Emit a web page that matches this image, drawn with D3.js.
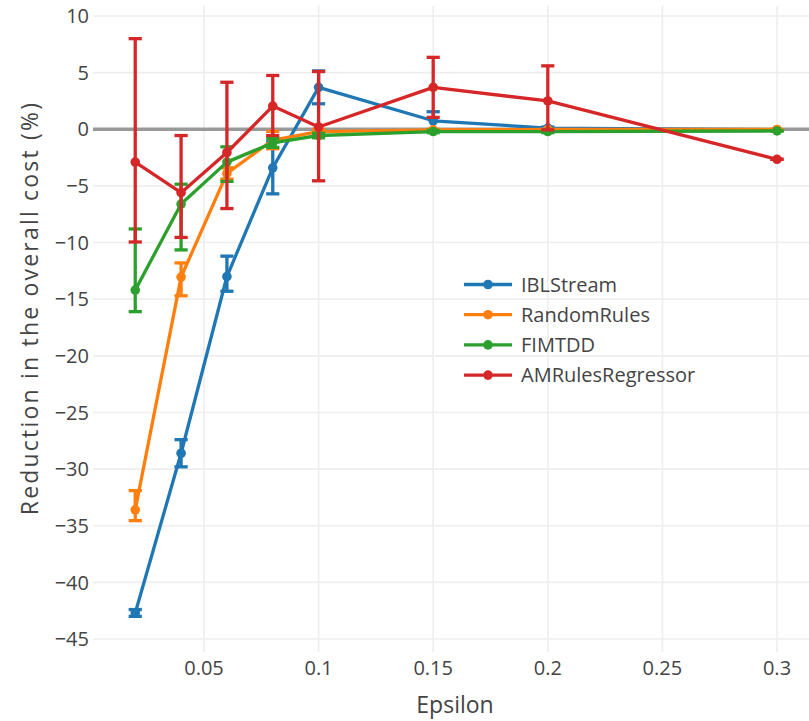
<!DOCTYPE html>
<html>
<head>
<meta charset="utf-8">
<script src="https://cdn.jsdelivr.net/npm/d3@7"></script>
<style>
  html, body { margin: 0; padding: 0; background: #fff; }
  svg { display: block; font-family: "Open Sans", verdana, arial, sans-serif; }
</style>
</head>
<body>
<svg id="chart" width="809" height="721"></svg>
<script>
// ---- data ----
const epsilon = [0.02, 0.04, 0.06, 0.08, 0.1, 0.15, 0.2, 0.3];
const seriesNames = ["IBLStream", "RandomRules", "FIMTDD", "AMRulesRegressor"];
const seriesColors = ["#1f77b4", "#ff7f0e", "#2ca02c", "#d62728"];

const iblStream      = [-42.7, -28.6, -13.0, -3.4, 3.7, 0.75, 0.1, -0.05];
const iblStreamUp    = [0.3, 1.2, 1.8, 2.3, 1.45, 0.8, 0.1, 0];
const iblStreamDown  = [0.3, 1.2, 1.3, 2.3, 1.45, 0.8, 0.1, 0];

const randomRules     = [-33.6, -13.05, -3.9, -0.95, -0.2, -0.05, -0.02, -0.02];
const randomRulesUp   = [1.7, 1.25, 0.5, 0.77, 0.2, 0.05, 0, 0];
const randomRulesDown = [0.95, 1.65, 0.5, 0.77, 0.2, 0.05, 0, 0];

const fimtdd     = [-14.2, -6.6, -2.9, -1.2, -0.55, -0.2, -0.2, -0.15];
const fimtddUp   = [5.4, 1.75, 1.35, 0.4, 0.2, 0.1, 0.1, 0];
const fimtddDown = [1.9, 4.05, 1.7, 0.4, 0.2, 0.1, 0.1, 0];

const amRules     = [-2.9, -5.6, -2.05, 2.05, 0.2, 3.7, 2.5, -2.65];
const amRulesUp   = [10.9, 5.05, 6.2, 2.7, 4.9, 2.65, 3.1, 0];
const amRulesDown = [7.05, 3.95, 4.95, 2.6, 4.75, 2.65, 2.55, 0];

const xTicks = [0.05, 0.1, 0.15, 0.2, 0.25, 0.3];
const xTickLabels = ["0.05", "0.1", "0.15", "0.2", "0.25", "0.3"];
const yTicks = [10, 5, 0, -5, -10, -15, -20, -25, -30, -35, -40, -45];

const values = [iblStream, randomRules, fimtdd, amRules];
const ups = [iblStreamUp, randomRulesUp, fimtddUp, amRulesUp];
const downs = [iblStreamDown, randomRulesDown, fimtddDown, amRulesDown];

// ---- layout ----
const svg = d3.select("#chart");
const W = 809, H = 721;
const plotLeft = 93, plotRight = 820, plotTop = 6, plotBottom = 652;

const x = d3.scaleLinear().domain([0, 0.3]).range([89.4, 777]);
const y = d3.scaleLinear().domain([10, -45]).range([16, 639]);

svg.append("rect").attr("width", W).attr("height", H).attr("fill", "#fff");

svg.append("defs").append("clipPath").attr("id", "clip")
  .append("rect").attr("x", plotLeft).attr("y", plotTop)
  .attr("width", plotRight - plotLeft).attr("height", plotBottom - plotTop);

// grid
const grid = svg.append("g");
grid.selectAll("line.gx").data(xTicks).enter().append("line")
  .attr("x1", d => x(d)).attr("x2", d => x(d))
  .attr("y1", plotTop).attr("y2", plotBottom)
  .attr("stroke", "#eee").attr("stroke-width", 1.65);
grid.selectAll("line.gy").data(yTicks.filter(d => d !== 0)).enter().append("line")
  .attr("x1", plotLeft).attr("x2", plotRight)
  .attr("y1", d => y(d)).attr("y2", d => y(d))
  .attr("stroke", "#eee").attr("stroke-width", 1.65);

// zero line
svg.append("line")
  .attr("x1", plotLeft).attr("x2", plotRight)
  .attr("y1", y(0)).attr("y2", y(0))
  .attr("stroke", "#999").attr("stroke-width", 3.3);

// tick labels
svg.append("g").selectAll("text").data(yTicks).enter().append("text")
  .attr("x", 89).attr("y", d => y(d)).attr("dy", "0.36em")
  .attr("text-anchor", "end").attr("font-size", 20).attr("fill", "#444")
  .text(d => d < 0 ? "\u2212" + Math.abs(d) : String(d));

svg.append("g").selectAll("text").data(xTicks).enter().append("text")
  .attr("x", d => x(d)).attr("y", 668).attr("dy", "0.36em")
  .attr("text-anchor", "middle").attr("font-size", 20).attr("fill", "#444")
  .text((d, i) => xTickLabels[i]);

// axis titles
svg.append("text").attr("x", 455).attr("y", 705).attr("dy", "0.36em")
  .attr("text-anchor", "middle").attr("font-size", 23).attr("fill", "#444")
  .text("Epsilon");
svg.append("text")
  .attr("transform", "translate(30,308) rotate(-90)")
  .attr("dy", "0.36em")
  .attr("text-anchor", "middle").attr("font-size", 23).attr("fill", "#444")
  .attr("letter-spacing", 2.2)
  .text("Reduction in the overall cost (%)");

// traces
const plot = svg.append("g").attr("clip-path", "url(#clip)");
const line = d3.line().x(d => x(d[0])).y(d => y(d[1]));
const capHalf = 6.6;

values.forEach((vals, s) => {
  const color = seriesColors[s];
  const g = plot.append("g");
  const pts = epsilon.map((e, i) => [e, vals[i], ups[s][i], downs[s][i]]);
  // error bars
  const eb = g.append("g");
  pts.forEach(p => {
    const yt = y(p[1] + p[2]), yb = y(p[1] - p[3]), xc = x(p[0]);
    eb.append("line").attr("x1", xc).attr("x2", xc).attr("y1", yt).attr("y2", yb)
      .attr("stroke", color).attr("stroke-width", 3.3);
    eb.append("line").attr("x1", xc - capHalf).attr("x2", xc + capHalf).attr("y1", yt).attr("y2", yt)
      .attr("stroke", color).attr("stroke-width", 3.3);
    eb.append("line").attr("x1", xc - capHalf).attr("x2", xc + capHalf).attr("y1", yb).attr("y2", yb)
      .attr("stroke", color).attr("stroke-width", 3.3);
  });
  g.append("path").datum(pts).attr("d", line)
    .attr("fill", "none").attr("stroke", color).attr("stroke-width", 3.3)
    .attr("stroke-linejoin", "round");
  g.selectAll("circle").data(pts).enter().append("circle")
    .attr("cx", d => x(d[0])).attr("cy", d => y(d[1])).attr("r", 4.8)
    .attr("fill", color);
});

// legend
const legend = svg.append("g");
seriesNames.forEach((name, i) => {
  const ly = 284.5 + i * 30.2;
  legend.append("line").attr("x1", 464).attr("x2", 512).attr("y1", ly).attr("y2", ly)
    .attr("stroke", seriesColors[i]).attr("stroke-width", 3.3);
  legend.append("circle").attr("cx", 488).attr("cy", ly).attr("r", 4.8).attr("fill", seriesColors[i]);
  legend.append("text").attr("x", 521).attr("y", ly).attr("dy", "0.36em")
    .attr("font-size", 20).attr("fill", "#444").text(name);
});
</script>
</body>
</html>
